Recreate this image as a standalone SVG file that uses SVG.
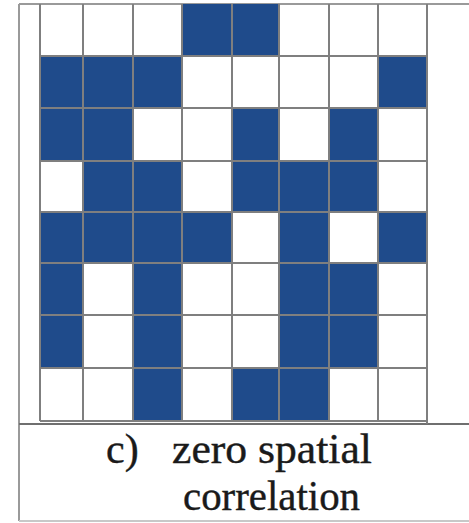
<svg xmlns="http://www.w3.org/2000/svg" width="469" height="523" viewBox="0 0 469 523">
<style>
.b{fill:#1f4b8b}
.g{stroke:#7f7f7f;stroke-width:2;fill:none}
.f{stroke:#9a9a9a;stroke-width:2;fill:none}
.t{font-size:42px;fill:#1a1a1a;stroke:#1a1a1a;stroke-width:0.4}
</style>
<rect x="0" y="0" width="469" height="523" fill="#ffffff"/>
<g id="frame">
<line class="f" x1="19" y1="4" x2="469" y2="4"/>
<line class="f" x1="19" y1="4" x2="19" y2="521"/>
<line x1="19" y1="424" x2="469" y2="424" stroke="#6f6f6f" stroke-width="2"/>
<line x1="19" y1="521" x2="469" y2="521" stroke="#c8c8c8" stroke-width="2"/>
</g>
<g id="cells">
<rect class="b" x="182" y="4" width="50" height="52"/><rect class="b" x="232" y="4" width="47" height="52"/>
<rect class="b" x="40" y="56" width="43" height="52"/><rect class="b" x="83" y="56" width="50" height="52"/><rect class="b" x="133" y="56" width="49" height="52"/><rect class="b" x="378" y="56" width="49" height="52"/>
<rect class="b" x="40" y="108" width="43" height="53"/><rect class="b" x="83" y="108" width="50" height="53"/><rect class="b" x="232" y="108" width="47" height="53"/><rect class="b" x="329" y="108" width="49" height="53"/>
<rect class="b" x="83" y="161" width="50" height="51"/><rect class="b" x="133" y="161" width="49" height="51"/><rect class="b" x="232" y="161" width="47" height="51"/><rect class="b" x="279" y="161" width="50" height="51"/><rect class="b" x="329" y="161" width="49" height="51"/>
<rect class="b" x="40" y="212" width="43" height="51"/><rect class="b" x="83" y="212" width="50" height="51"/><rect class="b" x="133" y="212" width="49" height="51"/><rect class="b" x="182" y="212" width="50" height="51"/><rect class="b" x="279" y="212" width="50" height="51"/><rect class="b" x="378" y="212" width="49" height="51"/>
<rect class="b" x="40" y="263" width="43" height="52"/><rect class="b" x="133" y="263" width="49" height="52"/><rect class="b" x="279" y="263" width="50" height="52"/><rect class="b" x="329" y="263" width="49" height="52"/>
<rect class="b" x="40" y="315" width="43" height="53"/><rect class="b" x="133" y="315" width="49" height="53"/><rect class="b" x="279" y="315" width="50" height="53"/><rect class="b" x="329" y="315" width="49" height="53"/>
<rect class="b" x="133" y="368" width="49" height="53"/><rect class="b" x="232" y="368" width="47" height="53"/><rect class="b" x="279" y="368" width="50" height="53"/>
</g>
<g id="gridlines" class="g">
<line x1="40" y1="4" x2="40" y2="421"/>
<line x1="83" y1="4" x2="83" y2="421"/>
<line x1="133" y1="4" x2="133" y2="421"/>
<line x1="182" y1="4" x2="182" y2="421"/>
<line x1="232" y1="4" x2="232" y2="421"/>
<line x1="279" y1="4" x2="279" y2="421"/>
<line x1="329" y1="4" x2="329" y2="421"/>
<line x1="378" y1="4" x2="378" y2="421"/>
<line x1="427" y1="4" x2="427" y2="424"/>
<line x1="40" y1="56" x2="427" y2="56"/>
<line x1="40" y1="108" x2="427" y2="108"/>
<line x1="40" y1="161" x2="427" y2="161"/>
<line x1="40" y1="212" x2="427" y2="212"/>
<line x1="40" y1="263" x2="427" y2="263"/>
<line x1="40" y1="315" x2="427" y2="315"/>
<line x1="40" y1="368" x2="427" y2="368"/>
<line x1="40" y1="421" x2="427" y2="421"/>
</g>
<g id="caption" font-family="'Liberation Serif', 'DejaVu Serif', serif">
<text class="t" x="106" y="463">c)</text>
<text class="t" x="172" y="463" textLength="200" lengthAdjust="spacingAndGlyphs">zero spatial</text>
<text class="t" x="183" y="510" textLength="177" lengthAdjust="spacingAndGlyphs">correlation</text>
</g>
</svg>
